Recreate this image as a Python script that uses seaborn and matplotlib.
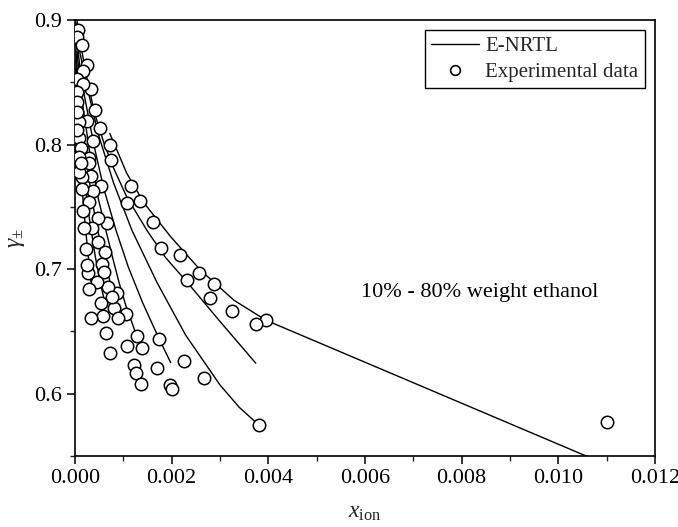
import numpy as np
import pandas as pd
import matplotlib
matplotlib.use("Agg")
import matplotlib.pyplot as plt
from matplotlib.lines import Line2D
from matplotlib.ticker import MultipleLocator, FormatStrFormatter
import seaborn as sns

# ---------------- data ----------------
series_names = ["10%", "20%", "30%", "40%", "50%", "60%", "70%", "80%"]

# experimental points (x_ion, gamma)
exp_x_10 = [0.00072, 0.00116, 0.00134, 0.00161, 0.00217, 0.00256, 0.00287, 0.00324, 0.00395, 0.0110]
exp_g_10 = [0.800, 0.767, 0.755, 0.738, 0.711, 0.697, 0.688, 0.666, 0.659, 0.577]
exp_x_20 = [0.00006, 0.00025, 0.00041, 0.00052, 0.00074, 0.00107, 0.00178, 0.00231, 0.00279, 0.00374]
exp_g_20 = [0.892, 0.864, 0.828, 0.813, 0.788, 0.753, 0.717, 0.691, 0.677, 0.656]
exp_x_30 = [0.00004, 0.00015, 0.00033, 0.00037, 0.00054, 0.00066, 0.00225, 0.00267, 0.00380]
exp_g_30 = [0.886, 0.880, 0.845, 0.803, 0.767, 0.737, 0.626, 0.6125, 0.575]
exp_x_40 = [0.00017, 0.00025, 0.00033, 0.00048, 0.00056, 0.00087, 0.00105, 0.00138, 0.00169, 0.00174, 0.00196, 0.00200]
exp_g_40 = [0.859, 0.819, 0.775, 0.741, 0.704, 0.681, 0.664, 0.637, 0.621, 0.644, 0.607, 0.604]
exp_x_50 = [0.00004, 0.00017, 0.00029, 0.00037, 0.00048, 0.00060, 0.00080, 0.00089, 0.00107, 0.00122, 0.00126, 0.00128, 0.00136]
exp_g_50 = [0.853, 0.849, 0.789, 0.763, 0.722, 0.698, 0.669, 0.661, 0.638, 0.623, 0.617, 0.646, 0.608]
exp_x_60 = [0.00004, 0.00008, 0.00029, 0.00029, 0.00035, 0.00058, 0.00062, 0.00068, 0.00072, 0.00076]
exp_g_60 = [0.842, 0.818, 0.785, 0.754, 0.733, 0.662, 0.714, 0.686, 0.633, 0.678]
exp_x_70 = [0.00004, 0.00008, 0.00012, 0.00015, 0.00017, 0.00023, 0.00027, 0.00045, 0.00054, 0.00064]
exp_g_70 = [0.834, 0.805, 0.797, 0.774, 0.747, 0.716, 0.697, 0.690, 0.673, 0.649]
exp_x_80 = [0.00004, 0.00004, 0.00008, 0.00008, 0.00012, 0.00015, 0.00019, 0.00025, 0.00029, 0.00033]
exp_g_80 = [0.826, 0.812, 0.790, 0.778, 0.785, 0.764, 0.733, 0.703, 0.684, 0.661]

# E-NRTL model curves
mod_x_10 = [0.00072, 0.00107, 0.00143, 0.00198, 0.00260, 0.00329, 0.00395, 0.0110]
mod_g_10 = [0.809, 0.777, 0.753, 0.726, 0.699, 0.675, 0.659, 0.543]
mod_x_20 = [0.00004, 0.00012, 0.00022, 0.00040, 0.00060, 0.00080, 0.00107, 0.00149, 0.00188, 0.00231, 0.00300, 0.00374]
mod_g_20 = [0.900, 0.880, 0.858, 0.826, 0.801, 0.781, 0.758, 0.731, 0.709, 0.690, 0.658, 0.6245]
mod_x_30 = [0.00002, 0.00008, 0.00025, 0.00050, 0.00080, 0.00118, 0.00170, 0.00229, 0.00300, 0.00340, 0.00380]
mod_g_30 = [0.898, 0.878, 0.846, 0.806, 0.769, 0.731, 0.689, 0.647, 0.607, 0.589, 0.575]
mod_x_40 = [0.00002, 0.00010, 0.00020, 0.00040, 0.00060, 0.00085, 0.00110, 0.00140, 0.00174, 0.00198]
mod_g_40 = [0.892, 0.862, 0.838, 0.798, 0.764, 0.731, 0.702, 0.673, 0.644, 0.625]
mod_x_50 = [0.00002, 0.00008, 0.00018, 0.00032, 0.00048, 0.00064, 0.00078, 0.00092, 0.00105, 0.00128]
mod_g_50 = [0.885, 0.858, 0.826, 0.790, 0.757, 0.731, 0.709, 0.688, 0.671, 0.646]
mod_x_60 = [0.00002, 0.00008, 0.00016, 0.00028, 0.00040, 0.00052, 0.00064, 0.00076]
mod_g_60 = [0.875, 0.842, 0.810, 0.775, 0.745, 0.722, 0.702, 0.685]
mod_x_70 = [0.00002, 0.00006, 0.00012, 0.00020, 0.00030, 0.00042, 0.00054, 0.00064]
mod_g_70 = [0.868, 0.838, 0.806, 0.773, 0.740, 0.710, 0.686, 0.670]
mod_x_80 = [0.00001, 0.00004, 0.00008, 0.00014, 0.00020, 0.00027, 0.00033]
mod_g_80 = [0.860, 0.830, 0.800, 0.768, 0.740, 0.712, 0.690]

exp_sets = [(exp_x_10, exp_g_10), (exp_x_20, exp_g_20), (exp_x_30, exp_g_30), (exp_x_40, exp_g_40),
            (exp_x_50, exp_g_50), (exp_x_60, exp_g_60), (exp_x_70, exp_g_70), (exp_x_80, exp_g_80)]
mod_sets = [(mod_x_10, mod_g_10), (mod_x_20, mod_g_20), (mod_x_30, mod_g_30), (mod_x_40, mod_g_40),
            (mod_x_50, mod_g_50), (mod_x_60, mod_g_60), (mod_x_70, mod_g_70), (mod_x_80, mod_g_80)]

legend_labels = ["E-NRTL", "Experimental data"]
annotation_text = "10% - 80% weight ethanol"
x_ticks = [0.000, 0.002, 0.004, 0.006, 0.008, 0.010, 0.012]
y_ticks = [0.6, 0.7, 0.8, 0.9]

# ---------------- style ----------------
sns.set_style("ticks")
plt.rcParams["font.family"] = ["Liberation Serif", "DejaVu Serif"]
plt.rcParams["mathtext.fontset"] = "custom"
plt.rcParams["mathtext.rm"] = "Liberation Serif"
plt.rcParams["mathtext.it"] = "Liberation Serif:italic"
plt.rcParams["mathtext.bf"] = "Liberation Serif:bold"

fig = plt.figure(figsize=(6.78, 5.27), dpi=100)
ax = fig.add_axes([75 / 678, 1 - 456 / 527, (655 - 75) / 678, (456 - 20) / 527])

exp_df = pd.concat([pd.DataFrame({"x": ex, "g": eg, "series": n})
                    for n, (ex, eg) in zip(series_names, exp_sets)], ignore_index=True)
mod_df = pd.concat([pd.DataFrame({"x": mx, "g": mg, "series": n})
                    for n, (mx, mg) in zip(series_names, mod_sets)], ignore_index=True)

for n in series_names:
    sub = mod_df[mod_df["series"] == n]
    sns.lineplot(data=sub, x="x", y="g", ax=ax, color="black", lw=1.0, sort=False,
                 estimator=None, legend=False, zorder=2)

sns.scatterplot(data=exp_df, x="x", y="g", ax=ax, marker="o", s=80,
                facecolor="white", edgecolor="black", linewidth=1.1, zorder=3, legend=False)

ax.set_xlim(0, 0.012)
ax.set_ylim(0.55, 0.9)
ax.set_xticks(x_ticks)
ax.set_yticks(y_ticks)
ax.xaxis.set_major_formatter(FormatStrFormatter("%.3f"))
ax.yaxis.set_major_formatter(FormatStrFormatter("%.1f"))
ax.xaxis.set_minor_locator(MultipleLocator(0.001))
ax.yaxis.set_minor_locator(MultipleLocator(0.05))
ax.tick_params(axis="both", which="major", direction="out", length=6, width=1.1,
               labelsize=16, colors="black", top=False, right=False)
ax.tick_params(axis="both", which="minor", direction="out", length=3.5, width=1.0,
               top=False, right=False)
for sp in ax.spines.values():
    sp.set_visible(True)
    sp.set_color("black")
    sp.set_linewidth(1.2)

ax.set_xlabel(r"$x_{\rm ion}$", fontsize=17, labelpad=10)
ax.set_ylabel(r"$\gamma_{\pm}$", fontsize=17, labelpad=5)

ax.text(0.00591, 0.681, annotation_text, fontsize=16, va="center", ha="left", color="black")

handles = [Line2D([], [], color="black", lw=1.0),
           Line2D([], [], marker="o", ls="", mfc="white", mec="black", ms=7, mew=1.2)]
leg = ax.legend(handles, legend_labels, loc="upper right", fontsize=15, frameon=True,
                fancybox=False, edgecolor="black", framealpha=1, borderpad=0.3,
                handlelength=2.3, handletextpad=0.3, labelspacing=0.3, borderaxespad=0.5)
leg.get_frame().set_linewidth(1.0)

fig.savefig("out.png", dpi=100)
